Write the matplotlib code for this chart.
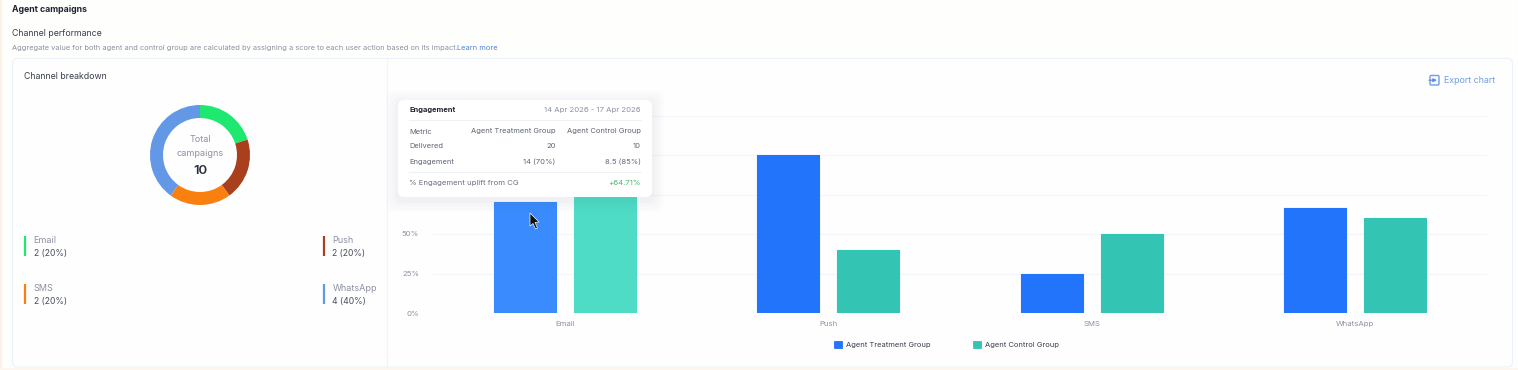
import matplotlib
matplotlib.use("Agg")
import matplotlib.pyplot as plt
from matplotlib.patches import FancyBboxPatch, Polygon, Rectangle

W, H = 1518, 370
plt.rcParams['font.family'] = ['Inter', 'DejaVu Sans']

channels = ['Email', 'Push', 'SMS', 'WhatsApp']
treatment = [70, 100, 25, 66.5]
control = [85, 40, 50, 60]
percent_ticks = [0, 25, 50, 75, 100, 125]
campaigns = [2, 2, 2, 4]
campaign_labels = ['2 (20%)', '2 (20%)', '2 (20%)', '4 (40%)']

tooltip_rows = [('Metric', 'Agent Treatment Group', 'Agent Control Group'),
                ('Delivered', '20', '10'),
                ('Engagement', '14 (70%)', '8.5 (85%)')]

BLUE, TEAL = '#2274fb', '#33c4b4'
BLUE_HOVER, TEAL_HOVER = '#3a8bfd', '#4edcc6'
DONUT_COLORS = ['#1fe870', '#a93f1c', '#f97f0f', '#6398e6']
GREY = '#8b91a3'
DARK = '#2a2e3b'


def px_axes(zorder):
    # overlay in image pixels, y pointing down
    a = fig.add_axes([0, 0, 1, 1], zorder=zorder)
    a.set_xlim(0, W)
    a.set_ylim(H, 0)
    a.axis('off')
    a.patch.set_alpha(0)
    return a


def box(x0, y0, x1, y1):
    # axes rectangle from pixel corners
    return [x0 / W, 1 - y1 / H, (x1 - x0) / W, (y1 - y0) / H]


def rounded(a, x0, y0, x1, y1, r, **kw):
    a.add_patch(FancyBboxPatch((x0 + r, y0 + r), x1 - x0 - 2 * r, y1 - y0 - 2 * r,
                               boxstyle=f'round,pad={r},rounding_size={r}', **kw))


fig = plt.figure(figsize=(W / 100, H / 100), dpi=100, facecolor='#fefefd')

# page furniture
bg = px_axes(0)
bg.add_patch(Rectangle((0, 0), 1.5, H, color='#fdf0e4', lw=0))
bg.add_patch(Rectangle((0, 368), W, 2, color='#fdf6ee', lw=0))
rounded(bg, 12.5, 58.5, 1512.5, 367, 5, fc='#fefefe', ec='#eaf2f8', lw=0.8)
bg.plot([386.5, 386.5], [59, 367], color='#f1f4f7', lw=0.8)
bg.plot([1517.5, 1517.5], [0, H], color='#eef1f5', lw=0.8)
bg.text(12.5, 9, 'Agent campaigns', fontsize=6.3, fontweight='bold', color='#1d2230', va='center')
bg.text(12.5, 33, 'Channel performance', fontsize=6.3, color='#3a3f4d', va='center')
bg.text(12.5, 48, 'Aggregate value for both agent and control group are calculated by assigning a score '
        'to each user action based on its impact.', fontsize=5.33, color=GREY, va='center')
bg.text(457, 48, 'Learn more', fontsize=5.4, color='#4f86dc', va='center')
bg.text(23.5, 76.5, 'Channel breakdown', fontsize=6.3, color='#3a3f4d', va='center')

# donut
dax = fig.add_axes(box(150, 105, 250, 205), zorder=1)
dax.pie(campaigns, colors=DONUT_COLORS, startangle=90, counterclock=False, radius=1,
        wedgeprops=dict(width=0.26, linewidth=0))
dax.set_xlim(-1, 1)
dax.set_ylim(-1, 1)
bg.text(200, 140, 'Total', fontsize=6.5, color=GREY, ha='center', va='center')
bg.text(200, 153, 'campaigns', fontsize=6.5, color=GREY, ha='center', va='center')
bg.text(200, 170.5, str(sum(campaigns)), fontsize=9.5, fontweight='semibold', color=DARK, ha='center', va='center')

# donut legend
spots = [(24.5, 246), (323.5, 246), (24.5, 294), (323.5, 294)]
for (x, y), name, lab, col in zip(spots, channels, campaign_labels, DONUT_COLORS):
    bg.plot([x, x], [y - 10, y + 10], color=col, lw=1.6, solid_capstyle='butt')
    bg.text(x + 9, y - 5.5, name, fontsize=6.5, color=GREY, va='center')
    bg.text(x + 9, y + 7.5, lab, fontsize=6.2, color='#4a4f5e', va='center')

# bar chart
ax = fig.add_axes(box(433, 115.5, 1487, 313), zorder=1)
ax.patch.set_alpha(0)
offset, bar_w = 0.152, 0.236
pos = range(len(channels))
b1 = ax.bar([p - offset for p in pos], treatment, bar_w, color=BLUE, edgecolor=BLUE, lw=0.8,
            joinstyle='round', label='Agent Treatment Group', zorder=3)
b2 = ax.bar([p + offset for p in pos], control, bar_w, color=TEAL, edgecolor=TEAL, lw=0.8,
            joinstyle='round', label='Agent Control Group', zorder=3)
# hovered category is lighter
b1[0].set(facecolor=BLUE_HOVER, edgecolor=BLUE_HOVER)
b2[0].set(facecolor=TEAL_HOVER, edgecolor=TEAL_HOVER)
ax.set_xlim(-0.5, 3.5)
ax.set_ylim(0, 125)
ax.set_yticks(percent_ticks, [f'{t}%' for t in percent_ticks])
ax.set_xticks(list(pos), channels)
ax.tick_params(length=0, labelsize=5.6, labelcolor=GREY, pad=10)
ax.tick_params(axis='x', pad=6)
ax.grid(axis='y', color='#f1f6fa', lw=0.8, zorder=0)
ax.set_axisbelow(True)
for s in ax.spines.values():
    s.set_visible(False)
leg = ax.legend(handles=[b1, b2], loc='center', bbox_to_anchor=(946.5 / W, 1 - 344.5 / H),
                bbox_transform=fig.transFigure, ncol=2, frameon=False, fontsize=5.45,
                handlelength=1.0, handleheight=1.1, handletextpad=0.6, columnspacing=5.6,
                labelcolor='#3a3f4d', borderpad=0)
for h, col in zip(leg.legend_handles, [BLUE, TEAL]):
    h.set(facecolor=col, edgecolor=col, lw=0.6)

# tooltip and things over the chart
top = px_axes(2)
for grow, alpha in [(12, 0.01), (9, 0.012), (6, 0.016), (3, 0.02)]:
    rounded(top, 398 - grow, 100 - grow + 3, 652 + grow, 197 + grow + 3, 8, fc='#3a4560', alpha=alpha, lw=0)
rounded(top, 398, 100, 652, 197, 6, fc='#ffffff', ec='none', lw=0)
top.text(409, 110, 'Engagement', fontsize=5.4, fontweight='bold', color='#20242f', va='center')
top.text(641, 110, '14 Apr 2026 - 17 Apr 2026', fontsize=5.55, color=GREY, ha='right', va='center')
top.plot([409, 641], [119.5, 119.5], color='#f0f1f4', lw=0.8)
for y, (a, b, c) in zip([131.5, 146, 162], tooltip_rows):
    top.text(409, y, a, fontsize=5.45, color='#5f6576', va='center')
    top.text(555.5, y, b, fontsize=5.45, color='#5f6576', ha='right', va='center')
    top.text(641, y, c, fontsize=5.45, color='#5f6576', ha='right', va='center')
top.plot([409, 641], [171.5, 171.5], color='#f0f1f4', lw=0.8)
top.text(409, 183, '% Engagement uplift from CG', fontsize=5.6, color='#6b7182', va='center')
top.text(641, 183, '+64.71%', fontsize=5.6, color='#48b96d', ha='right', va='center')

# mouse cursor
cursor = [(530, 213), (530, 226), (533, 223.5), (535.5, 229), (537.5, 228), (535, 222.5), (539, 222)]
top.add_patch(Polygon(cursor, closed=True, fc='#111111', ec='#f4f4f4', lw=0.5))

# export button
rounded(top, 1430, 75.5, 1439, 85, 1.2, fc='none', ec='#6f9de6', lw=1)
top.annotate('', xy=(1437, 80.2), xytext=(1429, 80.2),
             arrowprops=dict(arrowstyle='-|>', color='#5b8fe0', lw=0.9, mutation_scale=5, shrinkA=0, shrinkB=0))
top.text(1443.5, 80.5, 'Export chart', fontsize=6.4, color='#6f9de6', va='center')

fig.savefig('out.png', dpi=100)
